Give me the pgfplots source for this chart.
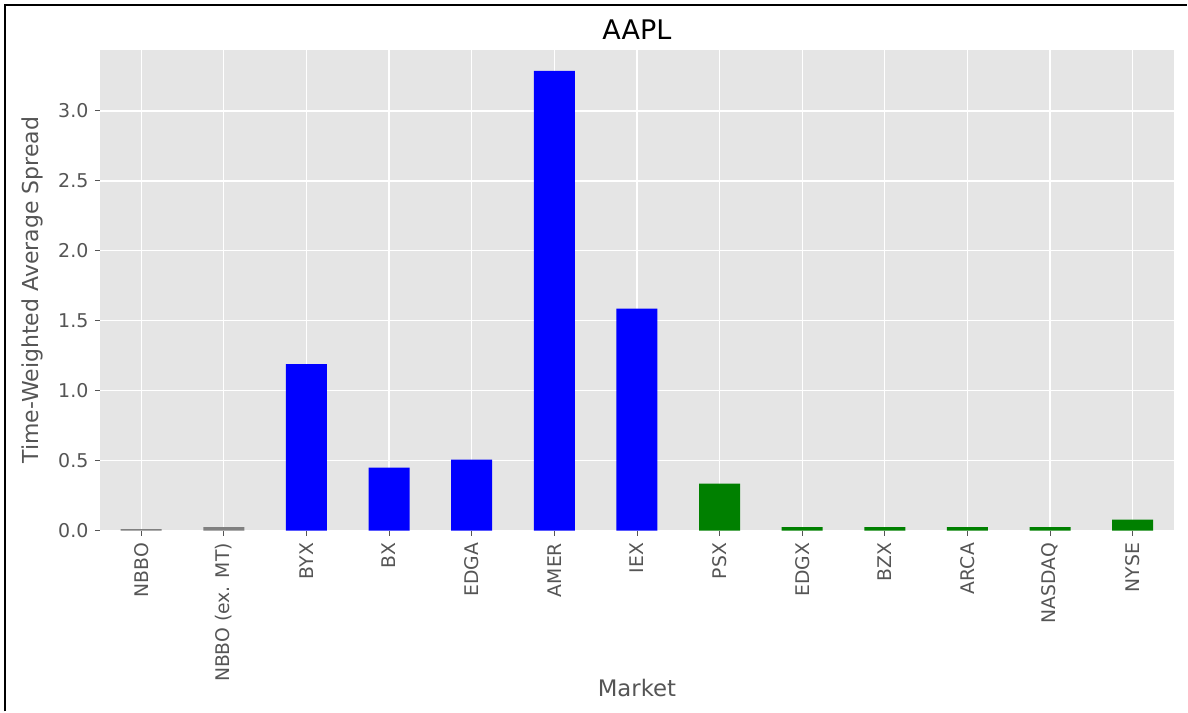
\documentclass[border=0pt]{standalone}
\usepackage{pgfplots}
\pgfplotsset{compat=1.18}
\usepackage{fontspec}
\setmainfont{DejaVu Sans}
\definecolor{bgg}{HTML}{E5E5E5}
\definecolor{txtg}{HTML}{555555}
\definecolor{barg}{HTML}{808080}
\begin{document}
\begin{tikzpicture}
\begin{axis}[
  name=main,
  scale only axis, width=1075pt, height=481pt,
  xmin=-0.5, xmax=12.5, ymin=0, ymax=3.436,
  axis background/.style={fill=bgg},
  axis line style={draw=none},
  grid=major, major grid style={white, line width=1.3pt},
  xtick={0,...,12},
  xticklabels={NBBO,NBBO (ex. MT),BYX,BX,EDGA,AMER,IEX,PSX,EDGX,BZX,ARCA,NASDAQ,NYSE},
  ytick={0,0.5,1.0,1.5,2.0,2.5,3.0},
  y tick label style={/pgf/number format/fixed, /pgf/number format/fixed zerofill, /pgf/number format/precision=1, /pgf/number format/assume math mode=true, font=\fontsize{19}{21}\selectfont, text=txtg, xshift=-3pt},
  xtick pos=left, ytick pos=left,
  tick align=outside, major tick length=5pt,
  tick style={color=txtg, line width=0.9pt},
  x tick label style={rotate=90, anchor=east, font=\fontsize{18.8}{21}\selectfont, text=txtg, xshift=-4pt},
  xlabel={Market}, ylabel={Time-Weighted Average Spread},
  title={AAPL},
  every axis x label/.style={at={(axis description cs:0.5,0)}, anchor=center, yshift=-158pt, font=\fontsize{22.8}{25}\selectfont, text=txtg},
  every axis y label/.style={at={(axis description cs:0,0.5)}, anchor=center, rotate=90, yshift=68pt, font=\fontsize{22}{25}\selectfont, text=txtg},
  every axis title/.style={at={(axis description cs:0.5,1)}, anchor=center, yshift=20pt, font=\fontsize{27}{30}\selectfont, text=black},
  ybar, bar width=41pt, bar shift=0pt,
]
\addplot[fill=barg, draw=none] coordinates {(0,0.010) (1,0.025)};
\addplot[fill=blue, draw=none] coordinates {(2,1.19) (3,0.45) (4,0.507) (5,3.286) (6,1.586)};
\addplot[fill={rgb,255:red,0;green,128;blue,0}, draw=none] coordinates {(7,0.336) (8,0.025) (9,0.025) (10,0.025) (11,0.025) (12,0.079)};
\end{axis}
\pgfresetboundingbox
\draw[line width=2pt] ([xshift=-95pt,yshift=-181pt]main.south west) |- ([xshift=1088pt,yshift=526pt]main.south west);
\path[use as bounding box] ([xshift=-100pt,yshift=-181pt]main.south west) rectangle ([xshift=1088pt,yshift=531pt]main.south west);
\end{tikzpicture}
\end{document}
